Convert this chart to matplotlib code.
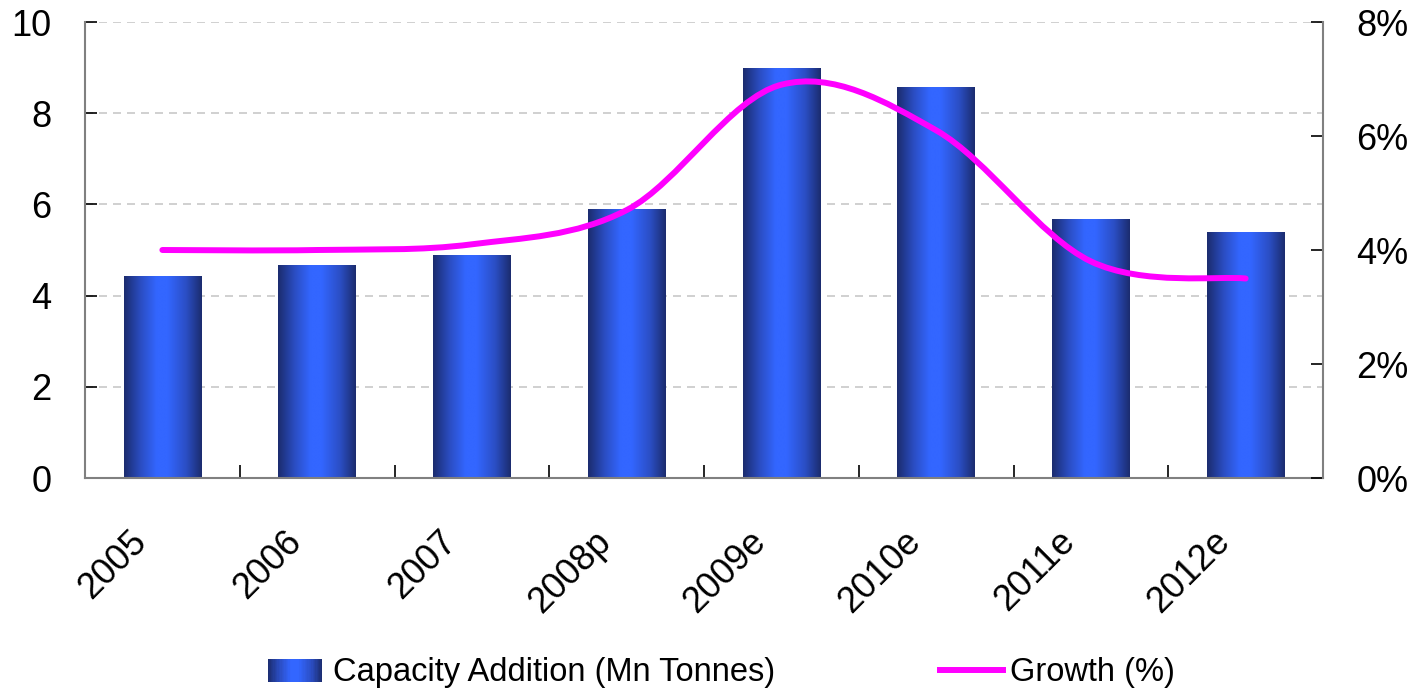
import numpy as np
import matplotlib
matplotlib.use("Agg")
import matplotlib.pyplot as plt
import matplotlib.transforms as mtransforms
from matplotlib.colors import LinearSegmentedColormap
from matplotlib.path import Path
from matplotlib.patches import PathPatch, Rectangle
from matplotlib.legend_handler import HandlerBase
from matplotlib.lines import Line2D

plt.rcParams['font.family'] = ['Liberation Sans', 'DejaVu Sans']

years = ["2005", "2006", "2007", "2008p", "2009e", "2010e", "2011e", "2012e"]
capacity = [4.43, 4.67, 4.89, 5.9, 8.99, 8.57, 5.68, 5.39]   # Mn tonnes
growth = [4.0, 4.0, 4.1, 4.7, 6.9, 6.1, 3.8, 3.5]            # %
left_ticks = [0, 2, 4, 6, 8, 10]
right_ticks = [0, 2, 4, 6, 8]

# cylinder-like shading across each bar
shade = LinearSegmentedColormap.from_list("barshade", [
    (0.0, "#1b2c6e"), (0.22, "#2b4ec4"), (0.42, "#3366ff"),
    (0.56, "#3366ff"), (0.8, "#2b4ec4"), (1.0, "#1b2c6e")])


class GradientHandler(HandlerBase):
    def create_artists(self, legend, orig_handle, xdescent, ydescent,
                       width, height, fontsize, trans):
        n = 40
        out = []
        for i in range(n):
            r = Rectangle((-xdescent + width * i / n, -ydescent), width / n * 1.05, height,
                          facecolor=shade((i + 0.5) / n), edgecolor="none", transform=trans)
            out.append(r)
        return out


W, H = 1414, 691
fig = plt.figure(figsize=(W / 100, H / 100), dpi=100)
ax = fig.add_axes([85 / W, 1 - 478 / H, (1323 - 85) / W, (478 - 22) / H])
ax2 = ax.twinx()

x = np.arange(len(years))
bars = ax.bar(x, capacity, width=0.5, facecolor="none", edgecolor="none", zorder=2)
grad = np.linspace(0, 1, 256).reshape(1, -1)
for b in bars:
    im = ax.imshow(grad, cmap=shade, aspect="auto", interpolation="bilinear", zorder=2,
                   extent=(b.get_x(), b.get_x() + b.get_width(), 0, b.get_height()))
    im.set_clip_path(b)

# smoothed growth line (Catmull-Rom as cubic Bezier segments)
pts = np.column_stack([x, growth]).astype(float)
ext = np.vstack([pts[0], pts, pts[-1]])
verts = [pts[0]]
codes = [Path.MOVETO]
for i in range(len(pts) - 1):
    p0, p1, p2, p3 = ext[i], ext[i + 1], ext[i + 2], ext[i + 3]
    verts += [p1 + (p2 - p0) / 6, p2 - (p3 - p1) / 6, p2]
    codes += [Path.CURVE4] * 3
ax2.add_patch(PathPatch(Path(verts, codes), facecolor="none", edgecolor="#ff00ff",
                        lw=4.3, capstyle="round", joinstyle="round", zorder=3))

ax.set_xlim(-0.5, len(years) - 0.5)
ax.set_ylim(0, 10)
ax2.set_ylim(0, 8)

ax.set_yticks(left_ticks)
ax.set_yticklabels([str(t) for t in left_ticks])
ax2.set_yticks(right_ticks)
ax2.set_yticklabels([f"{t}%" for t in right_ticks])

ax.yaxis.grid(True, color="#c8c8c8", linestyle=(0, (4.8, 3.6)), linewidth=1.2)
ax.set_axisbelow(True)

for s in ["top", "right"]:
    ax.spines[s].set_visible(False)
for s in ["top", "left", "bottom"]:
    ax2.spines[s].set_visible(False)
for sp in [ax.spines["left"], ax.spines["bottom"], ax2.spines["right"]]:
    sp.set_color("#808080")
    sp.set_linewidth(1.5)

ax.tick_params(axis="y", direction="in", length=8.6, width=1.2, color="black",
               pad=24, labelsize=26)
ax2.tick_params(axis="y", direction="in", length=8.6, width=1.2, color="black",
                pad=24, labelsize=26)

ax.set_xticks(x)
ax.set_xticklabels(years, rotation=45, ha="right", va="center", rotation_mode="anchor")
ax.set_xticks(np.arange(-0.5, len(years), 1), minor=True)
ax.tick_params(axis="x", which="major", length=0, pad=42, labelsize=26)
ax.tick_params(axis="x", which="minor", direction="in", length=9.4, width=1.2, color="black")
shift = mtransforms.ScaledTranslation(-21 / 100, 0, fig.dpi_scale_trans)
for lab in ax.get_xticklabels():
    lab.set_transform(lab.get_transform() + shift)

fig.legend(handles=[Rectangle((0, 0), 1, 1)], labels=["Capacity Addition (Mn Tonnes)"],
           handler_map={Rectangle: GradientHandler()}, loc="center left",
           bbox_to_anchor=(268 / W, (H - 673) / H), frameon=False, borderpad=0,
           borderaxespad=0, handlelength=1.66, handletextpad=0.34, fontsize=23.5)
fig.legend(handles=[Line2D([], [], color="#ff00ff", lw=4.3)], labels=["Growth (%)"],
           loc="center left", bbox_to_anchor=(940 / W, (H - 673) / H), frameon=False,
           borderpad=0, borderaxespad=0, handlelength=1.93, handletextpad=0.22, fontsize=23.5)

fig.savefig("out.png", dpi=100)
